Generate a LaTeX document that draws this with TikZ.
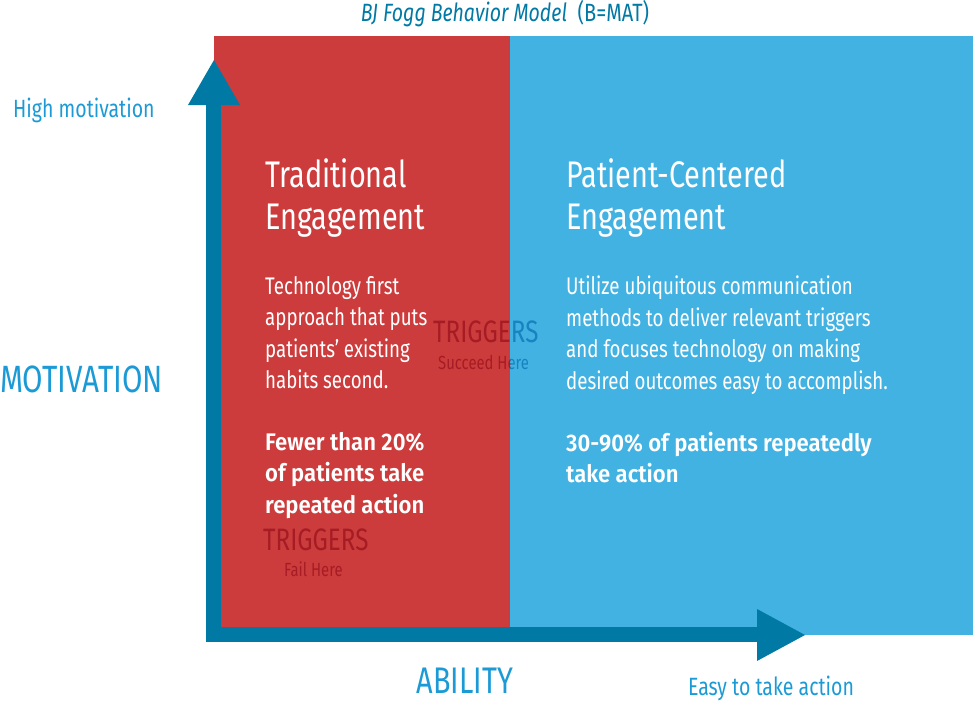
\documentclass[tikz,border=0pt]{standalone}
\usepackage{fontspec}
\setmainfont{Fira Sans}[FakeStretch=0.8]
\newfontfamily\lightf{Fira Sans}[FakeStretch=0.78]
\newfontfamily\boldf{Fira Sans SemiBold}[FakeStretch=0.92]
\definecolor{cred}{HTML}{CD3C3C}
\definecolor{cblue}{HTML}{42B2E2}
\definecolor{cdark}{HTML}{0079A5}
\definecolor{ctext}{HTML}{1B9AD6}
\definecolor{tred}{HTML}{A61C24}
\definecolor{tblue}{HTML}{1883C0}
\begin{document}
\begin{tikzpicture}[x=1pt,y=-1pt,
  ttl/.style={anchor=north west,align=left,text=white,font=\fontsize{37}{42}\selectfont\lightf,inner sep=0},
  body/.style={anchor=north west,align=left,text=white,font=\fontsize{24}{31.5}\selectfont\lightf,inner sep=0},
  bold/.style={anchor=north west,align=left,text=white,font=\fontsize{24}{31.5}\selectfont\boldf,inner sep=0},
  trig/.style={anchor=west,font=\fontsize{31}{32}\selectfont\lightf,inner sep=0},
  sub/.style={anchor=west,font=\fontsize{19}{20}\selectfont\lightf,inner sep=0}]
\useasboundingbox (0,0) rectangle (973,704);
\fill[cblue] (510,36) rectangle (973,635);
\fill[cred] (214,36) rectangle (510,627);
\fill[cdark] (206,105) rectangle (221,642);
\fill[cdark] (206,627) rectangle (758,642);
\fill[cdark] (188,105) -- (214,60) -- (240,105) -- cycle;
\fill[cdark] (757,609) -- (805,635) -- (757,661) -- cycle;
\node (title) at (505,14) {\fontsize{25}{28}\selectfont\color{cdark}{\lightf\itshape BJ Fogg Behavior Model}\ \ (B=MAT)};
\node[anchor=west,text=ctext,font=\fontsize{25}{28}\selectfont\lightf,inner sep=0] (hm) at (13,110) {High motivation};
\node[anchor=west,text=ctext,font=\fontsize{38}{40}\selectfont\lightf,inner sep=0] (mot) at (0,379) {MOTIVATION};
\node[text=ctext,font=\fontsize{37}{40}\selectfont\lightf,inner sep=0] (abil) at (465,681) {ABILITY};
\node[text=ctext,font=\fontsize{25}{28}\selectfont\lightf,inner sep=0] (easy) at (771,688) {Easy to take action};
\node[ttl] (t1) at (265,158) {Traditional\\Engagement};
\node[ttl] (t2) at (566,158) {Patient-Centered\\Engagement};
\node[body] (b1) at (265,276) {Technology first\\approach that puts\\patients’ existing\\habits second.};
\node[body] (b2) at (566,276) {Utilize ubiquitous communication\\methods to deliver relevant triggers\\and focuses technology on making\\desired outcomes easy to accomplish.};
\node[bold] (s1) at (265,432) {Fewer than 20\%\\of patients take\\repeated action};
\node[bold] (s2) at (566,432) {30-90\% of patients repeatedly\\take action};
\begin{scope}
\clip (0,0) rectangle (510,704);
\node[trig,text=tred] (tg1) at (433,332) {TRIGGERS};
\node[sub,text=tred] (sh1) at (438,362) {Succeed Here};
\end{scope}
\begin{scope}
\clip (510,0) rectangle (973,704);
\node[trig,text=tblue] at (433,332) {TRIGGERS};
\node[sub,text=tblue] at (438,362) {Succeed Here};
\end{scope}
\node[trig,text=tred] (tg2) at (263,540) {TRIGGERS};
\node[sub,text=tred] (fh) at (284,569) {Fail Here};
\end{tikzpicture}
\end{document}
